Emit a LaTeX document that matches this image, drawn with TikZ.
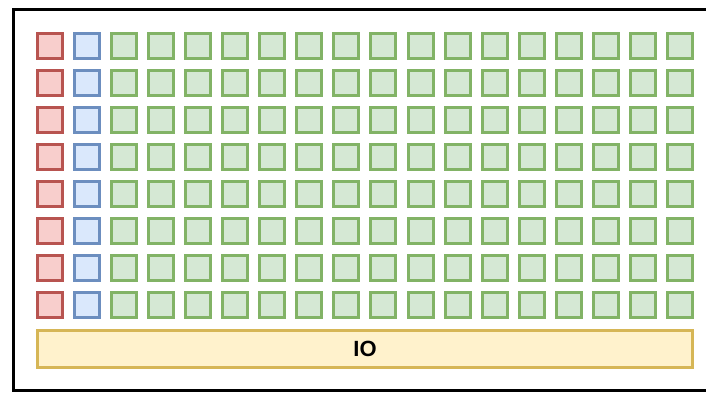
\documentclass[tikz,border=0pt]{standalone}
\usepackage{fontspec}
\setmainfont{Liberation Sans}
\definecolor{redline}{HTML}{B85450}
\definecolor{redfill}{HTML}{F8CECC}
\definecolor{blueline}{HTML}{6C8EBF}
\definecolor{bluefill}{HTML}{DAE8FC}
\definecolor{greenline}{HTML}{82B366}
\definecolor{greenfill}{HTML}{D5E8D4}
\definecolor{ioline}{HTML}{D6B656}
\definecolor{iofill}{HTML}{FFF2CC}
\begin{document}
\begin{tikzpicture}[x=1pt, y=-1pt, every node/.style={font=\bfseries\fontsize{22}{24}\selectfont},
    cell/.style={draw, line width=3pt, minimum size=25pt, inner sep=0pt},
    cellred/.style={cell, draw=redline, fill=redfill},
    cellblue/.style={cell, draw=blueline, fill=bluefill},
    cellgreen/.style={cell, draw=greenline, fill=greenfill}]
    \useasboundingbox (0,0) rectangle (706,392);
    \draw[line width=3pt] (13,9.5) rectangle (712,390.5);
    \foreach \r in {0,...,7} {
        \node[cellred] (red-\r) at (50,46+37*\r) {};
        \node[cellblue] (blue-\r) at (87.05,46+37*\r) {};
        \foreach \c in {2,...,17}
            \node[cellgreen] (green-\r-\c) at (50+37.05*\c,46+37*\r) {};
    }
    \node[draw=ioline, fill=iofill, line width=3pt, minimum width=655pt, minimum height=36.7pt, inner sep=0pt] (io) at (365,349.2) {IO};
\end{tikzpicture}
\end{document}
